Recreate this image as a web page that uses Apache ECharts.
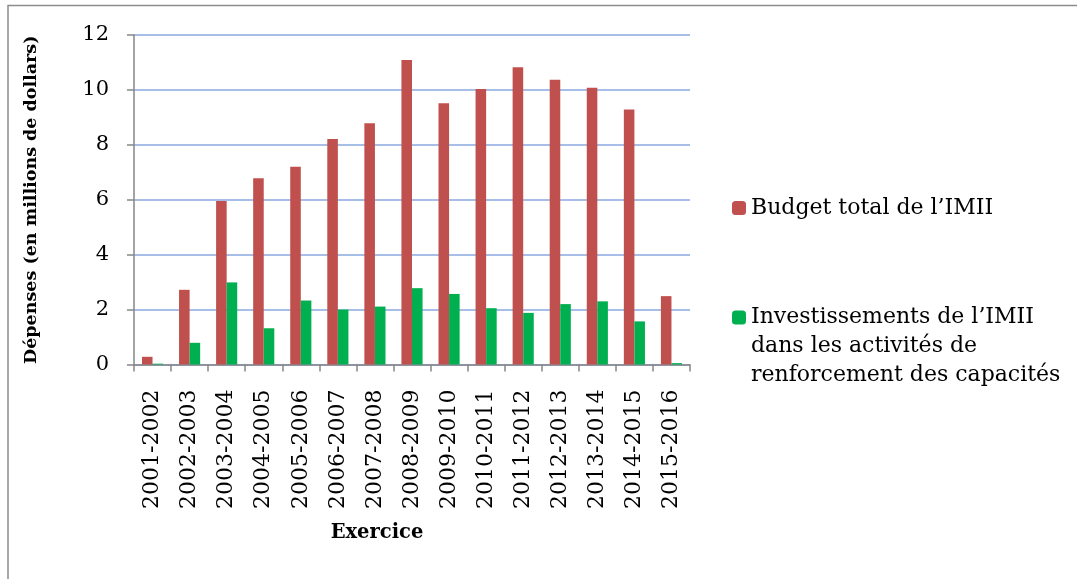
<!DOCTYPE html>
<html lang="fr">
<head>
    <meta charset="UTF-8">
    <title>Dépenses IMII</title>
    <style>
        body{ margin:0; background:#fff; }
        #main{ width:1077px; height:579px; }
    </style>
</head>
<body>
<div id="main"></div>
<script src="https://cdn.jsdelivr.net/npm/echarts@6/dist/echarts.min.js"></script>
<script>
    // exercices
    const categories = ['2001-2002','2002-2003','2003-2004','2004-2005','2005-2006','2006-2007','2007-2008',
        '2008-2009','2009-2010','2010-2011','2011-2012','2012-2013','2013-2014','2014-2015','2015-2016'];
    // budget total (millions $)
    const budget = [0.28, 2.72, 5.95, 6.78, 7.20, 8.21, 8.79, 11.09, 9.51, 10.03, 10.83, 10.37, 10.08, 9.29, 2.49];
    // investissements dans le renforcement des capacités
    const invest = [0.03, 0.79, 2.99, 1.32, 2.33, 2.00, 2.11, 2.78, 2.57, 2.05, 1.88, 2.20, 2.30, 1.57, 0.05];
    const yTicks = [0, 2, 4, 6, 8, 10, 12];

    const nameBudget = 'Budget total de l’IMII';
    const nameInvest = 'Investissements de l’IMII dans les activités de renforcement des capacités';
    // deux lignes vides devant : l'icône reste alignée sur la 1re ligne
    const legendInvest = '\n\nInvestissements de l’IMII\ndans les activités de\nrenforcement des capacités';

    const font = 'DejaVu Serif';
    const myChart = echarts.init(document.getElementById('main'));

    const option = {
        animation: false,
        textStyle: { fontFamily: font, color: '#000' },
        grid: { left: 134, right: 387, top: 35, bottom: 214.5 },
        legend: [{
            data: [nameBudget],
            left: 732, top: 193.5, padding: 0,
            itemWidth: 14, itemHeight: 14,
            textStyle: { fontFamily: font, fontSize: 22, lineHeight: 29, color: '#000' }
        }, {
            data: [nameInvest],
            left: 732, top: 245, padding: 0,
            itemWidth: 14, itemHeight: 14,
            formatter: function () { return legendInvest; },
            textStyle: { fontFamily: font, fontSize: 22, lineHeight: 29, color: '#000' }
        }],
        xAxis: {
            type: 'category',
            data: categories,
            axisLine: { lineStyle: { color: '#868686', width: 1.5 } },
            axisTick: { show: true, length: 7, lineStyle: { color: '#868686', width: 1.5 } },
            axisLabel: { rotate: 90, margin: 25, fontSize: 22, fontFamily: font, color: '#000', interval: 0 }
        },
        yAxis: {
            type: 'value',
            min: 0, max: 12, interval: 2,
            name: 'Dépenses (en millions de dollars)',
            nameLocation: 'middle',
            nameGap: 94,
            nameTextStyle: { fontFamily: font, fontWeight: 'bold', fontSize: 17.5, color: '#000' },
            axisLine: { show: true, lineStyle: { color: '#868686', width: 1.5 } },
            axisTick: { show: true, length: 7, lineStyle: { color: '#868686', width: 1.5 } },
            axisLabel: {
                margin: 25, fontSize: 21, fontFamily: font, color: '#000',
                formatter: function (v) { return yTicks.indexOf(v) >= 0 ? String(v) : ''; }
            },
            splitLine: { lineStyle: { color: '#A7BFE8', width: 2 } }
        },
        graphic: [{
            type: 'rect',
            shape: { x: 8, y: 5.5, width: 1200, height: 700 },
            style: { fill: 'none', stroke: '#8C8C8C', lineWidth: 1.5 },
            silent: true
        }, {
            type: 'text',
            x: 377, y: 533,
            style: {
                text: 'Exercice', fontFamily: font, fontWeight: 'bold', fontSize: 19.5,
                fill: '#000', align: 'center', verticalAlign: 'middle'
            }
        }],
        series: [{
            name: nameBudget,
            type: 'bar',
            data: budget,
            barGap: '0%',
            barCategoryGap: '43%',
            itemStyle: { color: '#C0504D' }
        }, {
            name: nameInvest,
            type: 'bar',
            data: invest,
            barGap: '0%',
            barCategoryGap: '43%',
            itemStyle: { color: '#00B050' }
        }]
    };
    myChart.setOption(option);
</script>
</body>
</html>
